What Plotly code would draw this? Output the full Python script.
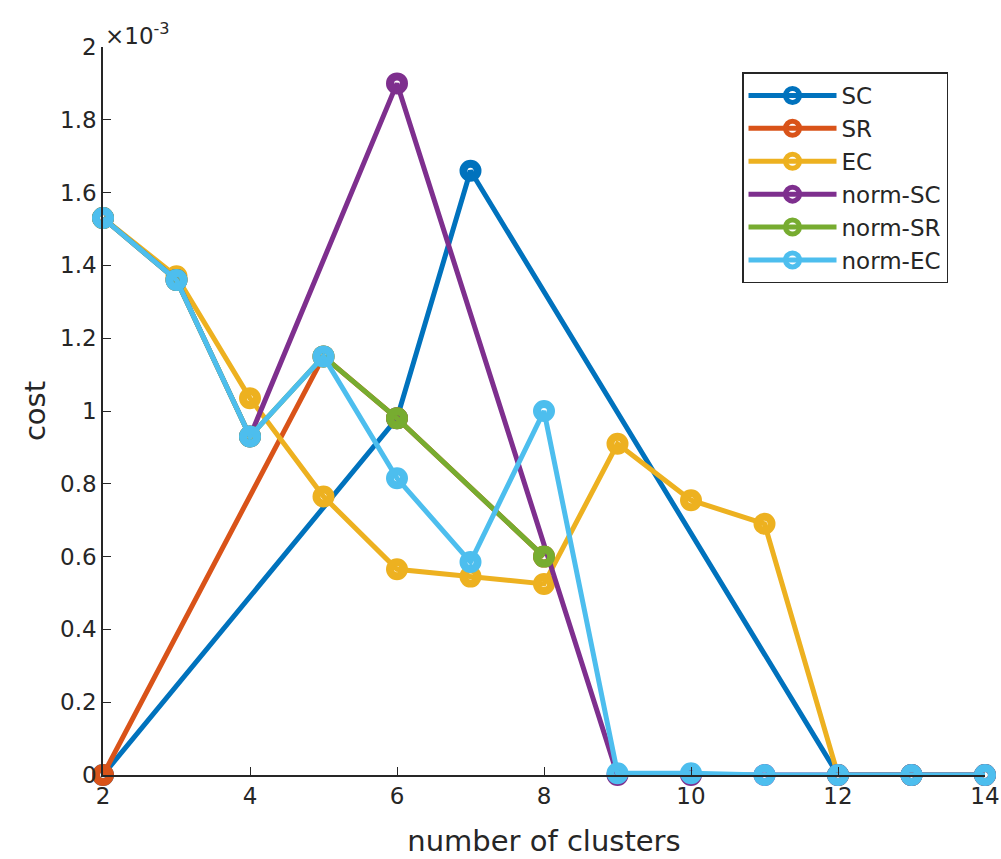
import plotly.graph_objects as go

# values in units of 1e-3
names = ["SC", "SR", "EC", "norm-SC", "norm-SR", "norm-EC"]
colors = ["#0072BD", "#D95319", "#EDB120", "#7E2F8E", "#77AC30", "#4DBEEE"]

sc_x = [2, 6, 7, 12, 13, 14]
sc_y = [0, 0.98, 1.66, 0, 0, 0]

sr_x = [2, 5, 6, 8]
sr_y = [0, 1.15, 0.98, 0.60]

ec_x = [2, 3, 4, 5, 6, 7, 8, 9, 10, 11, 12, 13, 14]
ec_y = [1.53, 1.37, 1.035, 0.765, 0.565, 0.545, 0.525, 0.91, 0.755, 0.69, 0, 0, 0]

nsc_x = [2, 3, 4, 6, 9, 10, 11, 12, 13, 14]
nsc_y = [1.53, 1.36, 0.93, 1.90, 0, 0, 0, 0, 0, 0]

nsr_x = [2, 3, 4, 5, 6, 8]
nsr_y = [1.53, 1.36, 0.93, 1.15, 0.98, 0.60]

nec_x = [2, 3, 4, 5, 6, 7, 8, 9, 10, 11, 12, 13, 14]
nec_y = [1.53, 1.36, 0.93, 1.15, 0.815, 0.585, 1.0, 0.005, 0.005, 0, 0, 0, 0]

xs = [sc_x, sr_x, ec_x, nsc_x, nsr_x, nec_x]
ys = [sc_y, sr_y, ec_y, nsc_y, nsr_y, nec_y]

y_ticks = [0, 0.2, 0.4, 0.6, 0.8, 1, 1.2, 1.4, 1.6, 1.8, 2]
y_labels = ["0", "0.2", "0.4", "0.6", "0.8", "1", "1.2", "1.4", "1.6", "1.8", "2"]
x_ticks = [2, 4, 6, 8, 10, 12, 14]

fig = go.Figure()
for n, c, x, y in zip(names, colors, xs, ys):
    fig.add_trace(go.Scatter(
        x=x, y=y, name=n, mode="lines+markers",
        line=dict(color=c, width=5),
        marker=dict(symbol="circle-open", size=14, color=c, line=dict(width=8, color=c)),
        cliponaxis=False,
    ))

font = "DejaVu Sans, sans-serif"
ink = "#262626"
fig.update_layout(
    width=1001, height=859,
    margin=dict(l=103, r=16, t=47, b=84),
    paper_bgcolor="white", plot_bgcolor="white",
    font=dict(family=font, size=23, color=ink),
    showlegend=True,
    legend=dict(
        x=0.7245, y=0.965, xanchor="left", yanchor="top",
        bgcolor="white", bordercolor=ink, borderwidth=1.5,
        font=dict(family=font, size=23, color=ink),
        itemwidth=88, tracegroupgap=0,
    ),
    xaxis=dict(
        range=[2, 14], tickvals=x_ticks, ticks="inside", ticklen=8,
        showgrid=False, zeroline=False, showline=True, linecolor=ink, linewidth=1.5,
        tickcolor=ink, tickfont=dict(size=23), automargin=False,
        title=dict(text="number of clusters", font=dict(size=29), standoff=22),
    ),
    yaxis=dict(
        range=[0, 2], tickvals=y_ticks, ticktext=y_labels, ticks="inside", ticklen=8,
        showgrid=False, zeroline=False, showline=True, linecolor=ink, linewidth=1.5,
        tickcolor=ink, tickfont=dict(size=23), automargin=False,
        title=dict(text="cost", font=dict(size=29), standoff=6),
    ),
    annotations=[dict(
        text="×10<sup>-3</sup>", xref="paper", yref="paper", x=0.0, y=1.0,
        xanchor="left", yanchor="bottom", showarrow=False, yshift=-4,
        font=dict(family=font, size=23, color=ink),
    )],
)

fig.write_html("out.html")
